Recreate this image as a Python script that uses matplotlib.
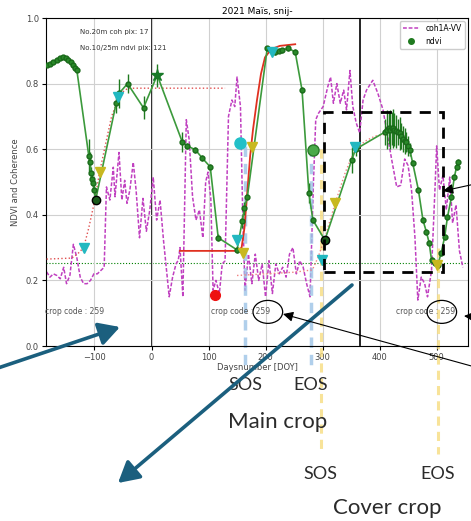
import matplotlib.pyplot as plt
from matplotlib.patches import Rectangle, Ellipse
from matplotlib.lines import Line2D

# Sentinel-1 coherence (VV), day of year relative to 2021
coh_doy = [-184, -178, -172, -166, -160, -154, -149, -143, -137, -131, -125, -119, -113, -107,
           -101, -95, -89, -83, -79, -73, -67, -64, -57, -52, -47, -43, -38, -32, -27, -21,
           -15, -9, -3, 3, 9, 15, 21, 27, 31, 37, 43, 47, 50, 55, 61, 66, 72, 78, 84, 90,
           95, 99, 104, 108, 113, 119, 124, 129, 135, 141, 146, 150, 156, 160, 164, 170,
           176, 182, 188, 194, 200, 206, 212, 218, 224, 230, 236, 242, 248, 254, 260, 266,
           272, 278, 284, 288, 293, 301, 309, 314, 319, 325, 331, 337, 342, 348, 353, 359,
           365, 371, 377, 388, 397, 406, 414, 421, 430, 437, 444, 450, 456, 462, 467, 473,
           479, 484, 491, 497, 500, 505, 511, 517, 523, 528, 534, 540, 546]
coh_val = [0.226, 0.21, 0.22, 0.215, 0.205, 0.24, 0.19, 0.216, 0.31, 0.27, 0.21, 0.19, 0.19, 0.20,
           0.22, 0.22, 0.23, 0.24, 0.485, 0.445, 0.545, 0.455, 0.59, 0.445, 0.505, 0.435, 0.475,
           0.56, 0.475, 0.33, 0.45, 0.35, 0.415, 0.515, 0.384, 0.445, 0.323, 0.22, 0.15, 0.21,
           0.25, 0.262, 0.30, 0.15, 0.69, 0.63, 0.455, 0.384, 0.415, 0.33, 0.50, 0.53, 0.45,
           0.17, 0.20, 0.16, 0.25, 0.26, 0.70, 0.75, 0.73, 0.82, 0.73, 0.40, 0.17, 0.28, 0.19,
           0.28, 0.20, 0.25, 0.15, 0.26, 0.16, 0.25, 0.22, 0.24, 0.21, 0.28, 0.30, 0.22, 0.26,
           0.24, 0.19, 0.15, 0.50, 0.69, 0.71, 0.73, 0.79, 0.82, 0.74, 0.80, 0.74, 0.78, 0.72,
           0.84, 0.73, 0.68, 0.65, 0.75, 0.78, 0.81, 0.77, 0.72, 0.64, 0.57, 0.485, 0.49, 0.57,
           0.55, 0.475, 0.33, 0.14, 0.21, 0.19, 0.15, 0.23, 0.475, 0.61, 0.475, 0.52, 0.415,
           0.515, 0.375, 0.43, 0.29, 0.24]

# NDVI mean and std over the parcel
ndvi_doy = [-184, -178, -172, -166, -160, -155, -150, -146, -142, -138, -134, -131,
            -110, -108, -106, -105, -103, -100, -98, -62, -57, -42, -14, 10,
            54, 63, 77, 89, 103, 117, 150, 159, 163, 168,
            203, 210, 217, 223, 229, 240, 252, 264, 276, 283, 304,
            351, 358, 409, 413, 416, 419, 421, 423, 426, 429, 432, 435, 438, 441, 444, 447,
            450, 453, 458, 468, 476, 482, 487, 491, 497, 502, 508, 514, 519, 526, 531, 535, 538]
ndvi_val = [0.857, 0.860, 0.866, 0.872, 0.878, 0.881, 0.878, 0.872, 0.866, 0.858, 0.848, 0.842,
            0.580, 0.560, 0.527, 0.510, 0.497, 0.475, 0.445, 0.740, 0.770, 0.800, 0.726, 0.826,
            0.622, 0.610, 0.598, 0.573, 0.546, 0.330, 0.293, 0.380, 0.420, 0.454,
            0.908, 0.902, 0.896, 0.900, 0.902, 0.908, 0.896, 0.780, 0.466, 0.384, 0.323,
            0.567, 0.600, 0.652, 0.660, 0.665, 0.660, 0.664, 0.664, 0.660, 0.655, 0.652, 0.649,
            0.640, 0.632, 0.625, 0.622, 0.610, 0.598, 0.558, 0.476, 0.384, 0.348, 0.314, 0.262,
            0.253, 0.247, 0.284, 0.332, 0.393, 0.454, 0.515, 0.546, 0.561]
ndvi_err = [0.006] * 12 + [0.05, 0.03, 0.02, 0.02, 0.015, 0.015, 0.01, 0.03, 0.045, 0.03, 0.035, 0.035,
            0.03, 0.01, 0.01, 0.01, 0.01, 0.01, 0.01, 0.02, 0.02, 0.01,
            0.008, 0.008, 0.008, 0.008, 0.008, 0.008, 0.008, 0.01, 0.03, 0.01, 0.01,
            0.04, 0.02, 0.04, 0.06, 0.05, 0.06, 0.05, 0.06, 0.05, 0.05, 0.04, 0.05, 0.04, 0.04,
            0.04, 0.03, 0.03, 0.02, 0.01, 0.01, 0.01, 0.01, 0.01, 0.01, 0.01, 0.01, 0.01, 0.01,
            0.01, 0.01, 0.01, 0.01, 0.01]

# fitted seasonal curves
fit1_doy = [-184, -140, -130, -119, -110, -100, -91, -80, -70, -59, -50, -42, -30, 129]
fit1_val = [0.265, 0.268, 0.28, 0.30, 0.36, 0.44, 0.53, 0.62, 0.70, 0.75, 0.775, 0.785, 0.786, 0.786]
fit_main_doy = [50, 100, 150, 158, 163, 168, 173, 178, 185, 192, 199, 210, 225, 252]
fit_main_val = [0.29, 0.29, 0.29, 0.30, 0.36, 0.47, 0.58, 0.66, 0.75, 0.83, 0.88, 0.905, 0.915, 0.92]
fit_cover_doy = [150, 200, 250, 282, 292, 304, 322, 340, 357, 375, 392, 409]
fit_cover_val = [0.215, 0.22, 0.225, 0.232, 0.27, 0.33, 0.435, 0.53, 0.60, 0.625, 0.64, 0.645]
base_level = 0.253

# phenology markers
cyan_tri_doy = [-119, -59, 150, 212, 299, 357]
cyan_tri_val = [0.30, 0.76, 0.323, 0.896, 0.262, 0.607]
yellow_tri_doy = [-91, 161, 177, 322, 500]
yellow_tri_val = [0.53, 0.283, 0.607, 0.435, 0.247]
min_doy = [-98, 304]
min_val = [0.445, 0.323]
peak_doy, peak_val = 10, 0.826
cyan_dot_doy, cyan_dot_val = 156, 0.62
green_dot_doy, green_dot_val = 283, 0.597
red_dot_doy, red_dot_val = 112, 0.155

sos_main, eos_main = 164, 280
sos_cover, eos_cover = 297, 502
cover_box = (302, 512, 0.226, 0.713)
crop_code = 259

fig = plt.figure(figsize=(4.71, 5.21), dpi=100)
ax = fig.add_axes([46 / 471, 1 - 346 / 521, 422 / 471, 328 / 521])

ax.plot(coh_doy, coh_val, color='#c040c0', ls=(0, (2.5, 1.2)), lw=1.1, label='coh1A-VV', zorder=2)
ax.plot(fit1_doy, fit1_val, color='#e05050', ls=':', lw=1.0, zorder=3)
ax.plot(fit_cover_doy, fit_cover_val, color='#f08080', ls=':', lw=1.0, zorder=3)
ax.plot(fit_main_doy, fit_main_val, color='#e03020', lw=1.3, zorder=3)
ax.axhline(base_level, color='green', ls=':', lw=0.8, zorder=1)

ax.errorbar(ndvi_doy, ndvi_val, yerr=ndvi_err, fmt='-o', color='#3c9a3c', ecolor='#1f7a1f',
            mfc='#2a8a2a', mec='#1a6a1a', ms=3.5, lw=1.2, elinewidth=1.0, zorder=4)
ndvi_handle = Line2D([], [], color='#1f7a1f', marker='o', ls='', ms=4)

ax.plot(cyan_tri_doy, cyan_tri_val, 'v', color='#22b8c0', ms=7, zorder=5)
ax.plot(yellow_tri_doy, yellow_tri_val, 'v', color='#c8b820', ms=7, zorder=5)
ax.plot(min_doy, min_val, 'o', mfc='#1a5a1a', mec='black', ms=6, zorder=6)
ax.plot(peak_doy, peak_val, '*', color='#1a7a2a', ms=9, zorder=6)
ax.plot(cyan_dot_doy, cyan_dot_val, 'o', color='#22c0c8', ms=8, zorder=6)
ax.plot(green_dot_doy, green_dot_val, 'o', mfc='#4aaa4a', mec='#2a7a2a', ms=8, zorder=6)
ax.plot(red_dot_doy, red_dot_val, 'o', color='#ee1111', ms=7, zorder=6)

# season boundaries
ax.axvline(0, color='black', lw=1.2, zorder=1)
ax.axvline(365, color='black', lw=1.2, zorder=1)

# start / end of season lines running below the axis
for d in (sos_main, eos_main):
    ax.plot([d, d], [0.61, -0.064], color='#9dc3e6', ls=(0, (3, 2)), lw=2.5, alpha=0.8,
            clip_on=False, zorder=2)
for d, top in ((sos_cover, 0.6), (eos_cover, 0.3)):
    ax.plot([d, d], [top, -0.33], color='#f7dd80', ls=(0, (3, 2)), lw=2.2, alpha=0.8,
            clip_on=False, zorder=2)

x0, x1, y0, y1 = cover_box
ax.add_patch(Rectangle((x0, y0), x1 - x0, y1 - y0, fill=False, ec='black', ls=(0, (4, 3)),
                       lw=2.0, zorder=7))

ax.set_xlim(-185, 555)
ax.set_ylim(0, 1.0)
ax.set_xticks([-100, 0, 100, 200, 300, 400, 500])
ax.set_yticks([0.0, 0.2, 0.4, 0.6, 0.8, 1.0])
ax.tick_params(labelsize=6, length=3, pad=2, labelcolor='#444444')
ax.grid(True, color='#d0d0d0', lw=0.8)
ax.set_title('2021 Maïs, snij-', fontsize=6.5, pad=3)
ax.set_xlabel('Daysnumber [DOY]', fontsize=6, labelpad=1, color='#444444')
ax.set_ylabel('NDVI and Coherence', fontsize=6, labelpad=4, color='#444444')
ax.legend(handles=[ax.lines[0], ndvi_handle], labels=['coh1A-VV', 'ndvi'], loc='upper right',
          fontsize=5.5, borderaxespad=0.4, handlelength=2.2, framealpha=1)

ax.text(-126, 0.957, 'No.20m coh pix: 17', fontsize=5, color='#333333', va='center')
ax.text(-126, 0.909, 'No.10/25m ndvi pix: 121', fontsize=5, color='#333333', va='center')
for d in (-187, 105, 428):
    ax.text(d, 0.104, f'crop code : {crop_code}', fontsize=5.5, color='#555555', va='center',
            clip_on=False)
for d in (204, 509):
    ax.add_patch(Ellipse((d, 0.104), 52, 0.07, fill=False, ec='black', lw=0.9, zorder=7))

lab = dict(family='Lato', color='#2b2b2b', ha='center', va='center')
ax.text(sos_main, -0.119, 'SOS', fontsize=13, **lab)
ax.text(eos_main, -0.119, 'EOS', fontsize=13, **lab)
ax.text((sos_main + eos_main) / 2, -0.232, 'Main crop', fontsize=16, **lab)
ax.text(sos_cover, -0.39, 'SOS', fontsize=13, **lab)
ax.text(eos_cover, -0.39, 'EOS', fontsize=13, **lab)
ax.text(414, -0.494, 'Cover crop', fontsize=16, **lab)

# callout arrows on a pixel-space overlay
ov = fig.add_axes([0, 0, 1, 1], zorder=10)
ov.set_xlim(0, 471)
ov.set_ylim(521, 0)
ov.axis('off')
teal = dict(arrowstyle='-|>,head_length=0.9,head_width=0.5', color='#1b5f7e', lw=2.6,
            mutation_scale=14, shrinkA=0, shrinkB=0)
ov.annotate('', xy=(120, 327), xytext=(-2, 368), arrowprops=teal, annotation_clip=False)
ov.annotate('', xy=(118, 483), xytext=(352, 285), arrowprops=teal, annotation_clip=False)
thin = dict(arrowstyle='-|>,head_length=0.6,head_width=0.3', color='black', lw=0.8,
            mutation_scale=10, shrinkA=0, shrinkB=0)
ov.annotate('', xy=(283, 314), xytext=(475, 367), arrowprops=thin, annotation_clip=False)
ov.annotate('', xy=(443, 191), xytext=(475, 184), arrowprops=thin, annotation_clip=False)
ov.annotate('', xy=(464, 316), xytext=(478, 317), arrowprops=thin, annotation_clip=False)

fig.savefig('out.png', dpi=100)
